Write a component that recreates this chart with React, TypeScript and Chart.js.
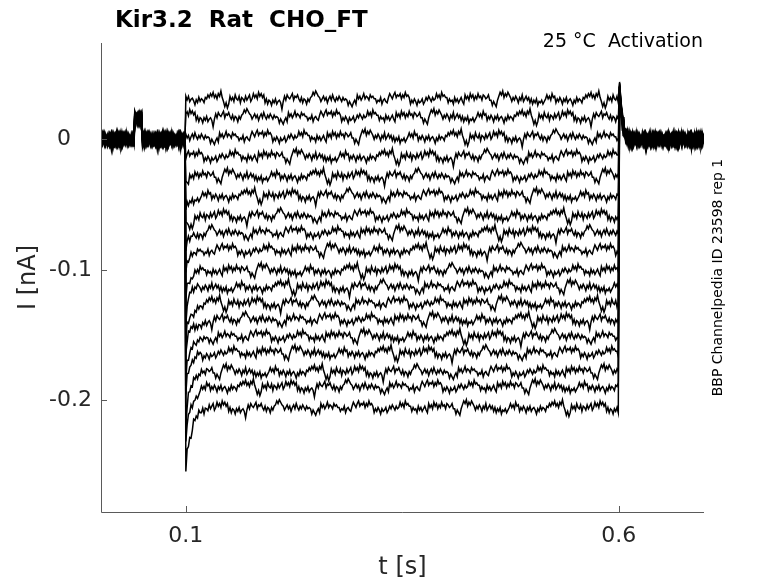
import React, { useRef, useEffect } from 'react';
import { Chart, registerables } from 'chart.js';

Chart.register(...registerables);

// steady current of each sweep during the step (nA), read at the plateau
const levels = [
  0.031, 0.0175, 0.002, -0.013, -0.028, -0.043, -0.0585, -0.0715, -0.085,
  -0.1005, -0.113, -0.1255, -0.138, -0.151, -0.1635, -0.178, -0.1895, -0.2055,
];
// extra current right at the step onset (nA)
const onsetDip = [
  0.002, 0.001, 0, -0.002, -0.005, -0.008, -0.011, -0.014, -0.017,
  -0.02, -0.023, -0.026, -0.029, -0.032, -0.035, -0.039, -0.042, -0.05,
];
// how much of the onset extra is left, sample by sample
const relax = [1, 0.6, 0.48, 0.4, 0.33, 0.27, 0.22, 0.18, 0.15, 0.12, 0.1, 0.08, 0.06, 0.05, 0.04, 0.03, 0.02, 0.01];
// tail current after the step (nA), 1 ms apart
const tail = [0.04, 0.03, 0.022, 0.016, 0.011, 0.008, 0.005, 0.003, 0.002, 0.001];
// small test pulse before the step
const pulseStart = 0.0405;
const pulseEnd = 0.0495;
const pulseLevel = 0.016;
// recording noise, 1e-3 nA
const noise = [
  4, 1, 3, 0, 5, 2, 3, 1,
  1, -3, 0, -2, -1, -4, 1, -2, 0, -3, -1, 1, -2, -4,
  3, 0, 2, -1, 4, 1, 3, -1, 2, 0, 4, 1, 2, -1, 3, 2, 0, 1, 3, -1,
  -1, -5, -2, -4, -6, -1,
  2, 5, 3, 6, 1, 4, 2, 5, 3, 1,
  -2, 1, -1, 2, 0, -3, 1, -1, 3, -2, 0, 2, -1, 1, -3, 0,
  -4, -1, -3, 0, -5, -2, -3, -1, -4, -2, 0,
  3, 0, 2, -1, 4, 1, 2,
  -3, 0, -2, 1, -1, -4, 0, -2, 1, -3, -1, 0, -2, -5, -1, -3, 1, -2, 0, -1, -3, 1,
  0, 3, 1, 4, 2, 5, 1, 3, 0, 4, 2, 6, 1,
  -2, -6, -3, -7, -4,
  2, -1, 1, -2, 3, 0, -1, 2, -3, 1, 0, -2, 2, -1, 1, 3, -2, 0,
  4, 1, 3, 0, 5, 2, 4, 1, 3,
  -3, 0, -4, -1, -2, -5, -1, -3, 0, -4, -2, -1, -3, -8, -2,
  2, -1, 3, 1, 0, 2, 4, -1, 2, 1, 3, 0,
  -2, 1, -3, 0, -1, -4, 0, -2, 1,
  2, 5, 3, 6, 4, 2,
  1, -2, 0, 2, -1, 1, -3, 0, 2, -1, 3, 0, -2, 1, -1, 2, 0, -2, 1, -1, 0,
  -1, -5, -2, -4, -6, -3, -1, -4,
  3, 0, 2, -1, 1, 4, 0, 2, 1, -1, 3, 1, 2, 0,
  0, -3, -1, -2, 1, -4, -1, 0, -2, -3,
  1, 4, 2, 0, 3, 5, 1, 3, 2, 4, 0, 3, 1, 5, 2, 3, 1,
  -4, -1, -3, 0, -2, -5, -1, -3, -2, 0, -4, -2,
  1, -1, 2, 0, -2, 1, -1, 0,
];
const xTicks = [0.1, 0.6];
const yTicks = [0, -0.1, -0.2];

const xMin = 0.002;
const xMax = 0.6985;
const yMin = -0.2856;
const yMax = 0.0738;

const FONT = '"DejaVu Sans", sans-serif';

const buildSweep = (i: number) => {
  const pts: { x: number; y: number }[] = [];
  let k = i * 53;
  const n = () => noise[k++ % noise.length] / 1000;
  for (let j = 0; j < 98; j++) {
    const t = xMin + j * 0.001;
    const base = t >= pulseStart && t < pulseEnd ? pulseLevel : 0;
    pts.push({ x: t, y: base + n() });
  }
  for (let j = 0; j <= 333; j++) {
    const t = Math.min(0.1 + j * 0.0015, 0.6);
    const extra = j < relax.length ? onsetDip[i] * relax[j] : 0;
    pts.push({ x: t, y: levels[i] + extra + n() });
  }
  for (let j = 1; 0.6 + j * 0.001 <= xMax + 1e-9; j++) {
    const t = 0.6 + j * 0.001;
    pts.push({ x: t, y: (tail[j - 1] ?? 0) + n() });
  }
  return pts;
};

const decor = {
  id: 'decor',
  afterDraw(chart: any) {
    const { ctx, chartArea: a, scales } = chart;
    const x = scales.x;
    const y = scales.y;
    ctx.save();
    ctx.strokeStyle = '#5a5a5a';
    ctx.lineWidth = 1;
    ctx.beginPath();
    ctx.moveTo(a.left + 0.5, a.top);
    ctx.lineTo(a.left + 0.5, a.bottom + 0.5);
    ctx.lineTo(a.right, a.bottom + 0.5);
    xTicks.forEach((v) => {
      const px = Math.round(x.getPixelForValue(v)) + 0.5;
      ctx.moveTo(px, a.bottom);
      ctx.lineTo(px, a.bottom - 6);
    });
    yTicks.forEach((v) => {
      const py = Math.round(y.getPixelForValue(v)) + 0.5;
      ctx.moveTo(a.left, py);
      ctx.lineTo(a.left + 6, py);
    });
    ctx.stroke();

    ctx.fillStyle = '#262626';
    ctx.font = `22px ${FONT}`;
    ctx.textAlign = 'center';
    ctx.textBaseline = 'alphabetic';
    xTicks.forEach((v) => {
      ctx.fillText(String(v), x.getPixelForValue(v), a.bottom + 30);
    });
    ctx.textAlign = 'right';
    ctx.textBaseline = 'middle';
    const frac = ctx.measureText('.1').width;
    yTicks.forEach((v) => {
      const label = v === 0 ? '0' : v.toFixed(1);
      const shift = label.includes('.') ? 0 : frac;
      ctx.fillText(label, a.left - 9 - shift, y.getPixelForValue(v));
    });

    ctx.font = `24px ${FONT}`;
    ctx.textAlign = 'center';
    ctx.textBaseline = 'alphabetic';
    ctx.fillText('t [s]', (a.left + a.right) / 2, a.bottom + 62);
    ctx.save();
    ctx.translate(35, (a.top + a.bottom) / 2);
    ctx.rotate(-Math.PI / 2);
    ctx.fillText('I [nA]', 0, 0);
    ctx.restore();

    ctx.fillStyle = '#000';
    ctx.font = `bold 23px ${FONT}`;
    ctx.textAlign = 'left';
    ctx.fillText('Kir3.2  Rat  CHO_FT', a.left + 14, a.top - 16);

    ctx.font = `19px ${FONT}`;
    ctx.textAlign = 'right';
    ctx.fillText('25 °C  Activation', a.right - 1, a.top + 4);

    ctx.font = `14px ${FONT}`;
    ctx.textAlign = 'center';
    ctx.save();
    ctx.translate(a.right + 18, (a.top + a.bottom) / 2);
    ctx.rotate(-Math.PI / 2);
    ctx.fillText('BBP Channelpedia ID 23598 rep 1', 0, 0);
    ctx.restore();
    ctx.restore();
  },
};

const App = () => {
  const canvasRef = useRef<HTMLCanvasElement>(null);

  useEffect(() => {
    document.body.style.margin = '0';
    const ctx = canvasRef.current?.getContext('2d');
    if (!ctx) return;
    const chart = new Chart(ctx, {
      type: 'line',
      data: {
        datasets: levels.map((_, i) => ({
          data: buildSweep(i),
          borderColor: '#000',
          borderWidth: 1.5,
          pointRadius: 0,
          tension: 0,
          fill: false,
        })),
      },
      options: {
        animation: false,
        responsive: false,
        maintainAspectRatio: false,
        layout: { padding: { left: 101, top: 43, right: 74, bottom: 71 } },
        plugins: { legend: { display: false }, tooltip: { enabled: false } },
        scales: {
          x: { type: 'linear', min: xMin, max: xMax, display: false },
          y: { type: 'linear', min: yMin, max: yMax, display: false },
        },
      },
      plugins: [decor],
    });
    return () => {
      chart.destroy();
    };
  }, []);

  return (
    <div style={{ width: 778, height: 583 }}>
      <canvas ref={canvasRef} width={778} height={583}></canvas>
    </div>
  );
};

export default App;
